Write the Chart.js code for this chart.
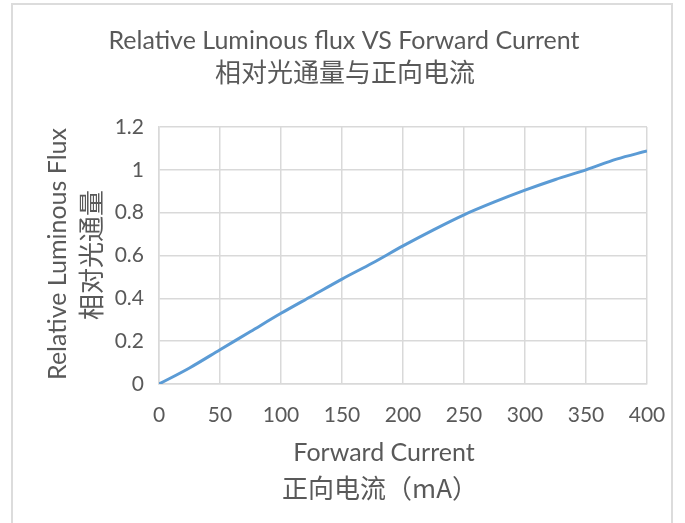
<!DOCTYPE html>
<html>
<head>
<meta charset="utf-8">
<script src="https://cdn.jsdelivr.net/npm/chart.js@4.4.1/dist/chart.umd.min.js"></script>
<style>
  html,body{margin:0;padding:0;background:#fff;}
  #wrap{position:relative;width:685px;height:523px;overflow:hidden;}
  #frame{position:absolute;left:11px;top:3px;width:662px;height:540px;border:2px solid #dcdcdc;box-sizing:border-box;}
  canvas{position:absolute;left:0;top:0;}
</style>
</head>
<body>
<div id="wrap">
  <div id="frame"></div>
  <canvas id="c" width="685" height="523"></canvas>
</div>
<script>
// current (mA) vs relative luminous flux
const currents = [0, 25, 50, 75, 100, 125, 150, 175, 200, 225, 250, 275, 300, 325, 350, 375, 400];
const flux     = [0, 0.075, 0.16, 0.245, 0.33, 0.41, 0.49, 0.565, 0.645, 0.72, 0.79, 0.85, 0.905, 0.955, 1.0, 1.05, 1.088];
const titleLines = ['Relative Luminous flux VS Forward Current', '相对光通量与正向电流'];
const yTitle = ['Relative Luminous Flux', '相对光通量'];
const xTitle = ['Forward Current', '正向电流（mA）'];

const grey = '#595959';
const gridCol = '#d9d9d9';
const latin = 'Lato, "Open Sans", sans-serif';
const cjk = '"Noto Sans CJK SC", sans-serif';

// titles drawn by hand so they sit where Excel put them
const textPlugin = {
  id:'texts',
  afterDraw(chart){
    const ctx = chart.ctx;
    ctx.save();
    ctx.fillStyle = grey;
    ctx.textAlign = 'center';
    ctx.textBaseline = 'middle';
    ctx.font = '25px ' + latin;
    ctx.fillText(titleLines[0], 344, 41);
    ctx.font = '26px ' + cjk;
    ctx.fillText(titleLines[1], 345, 72);

    ctx.font = '25px ' + latin;
    ctx.fillText(xTitle[0], 384, 453);
    ctx.font = '26px ' + cjk;
    ctx.fillText(xTitle[1], 380, 488);

    ctx.save();
    ctx.translate(58, 254);
    ctx.rotate(-Math.PI/2);
    ctx.font = '25px ' + latin;
    ctx.fillText(yTitle[0], 0, 0);
    ctx.restore();
    ctx.save();
    ctx.translate(91, 255);
    ctx.rotate(-Math.PI/2);
    ctx.font = '26px ' + cjk;
    ctx.fillText(yTitle[1], 0, 0);
    ctx.restore();
    ctx.restore();
  }
};

new Chart(document.getElementById('c').getContext('2d'), {
  type:'line',
  data:{
    datasets:[{
      data: currents.map((x,i)=>({x:x, y:flux[i]})),
      borderColor:'#5b9bd5',
      borderWidth:3,
      pointRadius:0,
      cubicInterpolationMode:'monotone',
      fill:false
    }]
  },
  options:{
    responsive:false, animation:false, devicePixelRatio:1,
    layout:{ padding:{ left:0, top:127, right:38, bottom:0 } },
    plugins:{ legend:{display:false}, title:{display:false}, tooltip:{enabled:false} },
    scales:{
      x:{
        type:'linear', min:0, max:400,
        afterFit(s){ s.height = 139; },
        grid:{ color:gridCol, lineWidth:1.5, drawTicks:false },
        border:{ color:gridCol, width:1.5 },
        ticks:{ stepSize:50, padding:19, color:grey, font:{ family:latin, size:21 }, maxRotation:0 }
      },
      y:{
        min:0, max:1.2,
        afterFit(s){ s.width = 159; },
        grid:{ color:gridCol, lineWidth:1.5, drawTicks:false },
        border:{ color:gridCol, width:1.5 },
        ticks:{ stepSize:0.2, padding:15, color:grey, font:{ family:latin, size:21 },
                callback:v=>+v.toFixed(1)+'' }
      }
    }
  },
  plugins:[textPlugin]
});
</script>
</body>
</html>
